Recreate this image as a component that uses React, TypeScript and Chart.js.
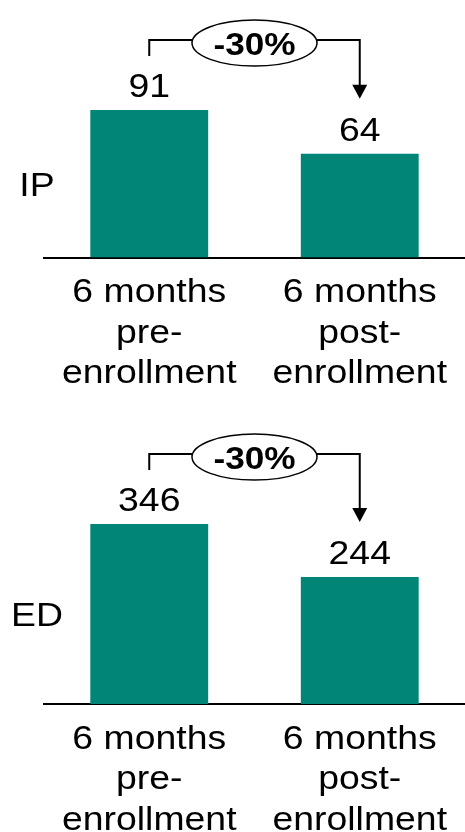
import React, { useEffect, useRef } from "react";
import { Chart, registerables } from "chart.js";

Chart.register(...registerables);

// ---- data ----
const categories: string[][] = [
  ["6 months", "pre-", "enrollment"],
  ["6 months", "post-", "enrollment"],
];
const ipValues = [91, 64];
const edValues = [346, 244];
const panelNames = ["IP", "ED"];
const changeLabels = ["-30%", "-30%"];
const yMaxes = [100, 400];

const FONT = '"Liberation Sans", Arial, Helvetica, sans-serif';
const SX = 1.1; // horizontal text stretch seen in the reference
const TEAL = "#008577";

function stretchedText(
  ctx: CanvasRenderingContext2D,
  text: string,
  x: number,
  y: number,
  size: number,
  bold = false,
  align: CanvasTextAlign = "center"
) {
  ctx.save();
  ctx.translate(x, y);
  ctx.scale(SX, 1);
  ctx.font = `${bold ? "bold " : ""}${size}px ${FONT}`;
  ctx.textAlign = align;
  ctx.textBaseline = "alphabetic";
  ctx.fillStyle = "#000";
  ctx.fillText(text, 0, 0);
  ctx.restore();
}

const annotPlugin = {
  id: "annot",
  afterDatasetsDraw(chart: any, _args: any, opts: any) {
    const ctx: CanvasRenderingContext2D = chart.ctx;
    const ys = chart.scales.y;
    const meta = chart.getDatasetMeta(0);
    const data: number[] = chart.data.datasets[0].data;
    const labels: string[][] = chart.data.labels;
    const axisY = ys.getPixelForValue(0);
    const b1 = meta.data[0];
    const b2 = meta.data[1];

    // value labels
    data.forEach((v, i) => {
      const el = meta.data[i];
      stretchedText(ctx, String(v), el.x, el.y - 13, 34);
    });

    // category labels
    labels.forEach((lines, i) => {
      const el = meta.data[i];
      lines.forEach((ln, j) => {
        stretchedText(ctx, ln, el.x, axisY + 44.5 + j * 40.5, 34);
      });
    });

    // panel name
    stretchedText(ctx, opts.name, chart.chartArea.left - 7, (b1.y + axisY) / 2 + 12, 34);

    // bracket with arrow
    const bracketY = Math.min(b1.y, b2.y) - 70;
    const leftEnd = b1.y - 54;
    const tip = b2.y - 55;
    const cx = (b1.x + b2.x) / 2;
    const cy = bracketY + 3;
    const rx = 62.5;
    const ry = 23;
    ctx.save();
    ctx.strokeStyle = "#000";
    ctx.lineWidth = 2;
    ctx.beginPath();
    ctx.moveTo(b1.x, leftEnd);
    ctx.lineTo(b1.x, bracketY);
    ctx.lineTo(cx - rx, bracketY);
    ctx.moveTo(cx + rx, bracketY);
    ctx.lineTo(b2.x, bracketY);
    ctx.lineTo(b2.x, tip - 12);
    ctx.stroke();
    ctx.beginPath();
    ctx.moveTo(b2.x - 7.5, tip - 14);
    ctx.lineTo(b2.x + 7.5, tip - 14);
    ctx.lineTo(b2.x, tip);
    ctx.closePath();
    ctx.fillStyle = "#000";
    ctx.fill();
    ctx.beginPath();
    ctx.ellipse(cx, cy, rx, ry, 0, 0, Math.PI * 2);
    ctx.fillStyle = "#fff";
    ctx.fill();
    ctx.lineWidth = 1.5;
    ctx.stroke();
    ctx.restore();
    stretchedText(ctx, opts.change, cx, cy + 11.5, 32, true);
  },
};

function Panel(props: {
  values: number[];
  name: string;
  change: string;
  yMax: number;
  height: number;
  padTop: number;
  padBottom: number;
}) {
  const ref = useRef<HTMLCanvasElement>(null);
  useEffect(() => {
    if (!ref.current) return;
    const chart = new Chart(ref.current, {
      type: "bar",
      data: {
        labels: categories as any,
        datasets: [
          {
            data: props.values,
            backgroundColor: TEAL,
            borderWidth: 0,
            barPercentage: 0.56,
            categoryPercentage: 1,
          },
        ],
      },
      options: {
        responsive: false,
        animation: false,
        events: [],
        layout: {
          padding: { top: props.padTop, bottom: props.padBottom, left: 44, right: 0 },
        },
        plugins: {
          legend: { display: false },
          tooltip: { enabled: false },
          annot: { name: props.name, change: props.change },
        } as any,
        scales: {
          x: {
            grid: { display: false, drawTicks: false, tickLength: 0 },
            ticks: { display: false, padding: 0 },
            border: { display: true, color: "#000", width: 2 },
            afterFit: (scale: any) => {
              scale.height = 0;
            },
          },
          y: { display: false, min: 0, max: props.yMax },
        },
      },
      plugins: [annotPlugin],
    });
    return () => chart.destroy();
  }, []);
  return (
    <canvas
      ref={ref}
      width={465}
      height={props.height}
      style={{ display: "block", width: 465, height: props.height }}
    />
  );
}

export default function App() {
  return (
    <div style={{ position: "absolute", left: 0, top: 0, width: 465, height: 832, background: "#fff" }}>
      <Panel values={ipValues} name={panelNames[0]} change={changeLabels[0]} yMax={yMaxes[0]} height={420} padTop={95.5} padBottom={162.5} />
      <Panel values={edValues} name={panelNames[1]} change={changeLabels[1]} yMax={yMaxes[1]} height={412} padTop={76} padBottom={128} />
    </div>
  );
}
